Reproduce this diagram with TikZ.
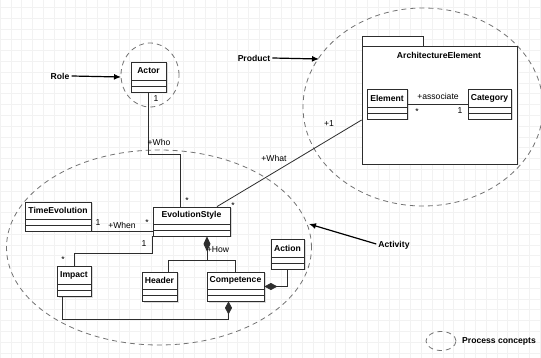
\documentclass[tikz,border=0pt]{standalone}
\usepackage{fontspec}
\setmainfont{Liberation Sans}
\usetikzlibrary{arrows.meta,fit,shapes.geometric}
\definecolor{gridc}{RGB}{242,242,242}
\definecolor{linec}{RGB}{45,45,45}
\definecolor{dashc}{RGB}{115,115,115}
\newcommand\umlcls[6]{%
  \coordinate (#1-a) at (#2,#3);
  \coordinate (#1-b) at (#4,#5);
  \fill[shadowc] ({#2+1.5},{#3+1.5}) rectangle ({#4+1.5},{#5+1.5});
  \node[clsbox, fit=(#1-a)(#1-b)] (#1) {};
  \draw[clsline] (#2,{#5-12}) -- (#4,{#5-12});
  \draw[clsline] (#2,{#5-6}) -- (#4,{#5-6});
  \node[blbl] at ({(#2+#4)/2},{(#3+#5-12)/2}) {#6};
}
\begin{document}
\begin{tikzpicture}[x=1pt,y=-1pt,
  lbl/.style={font=\fontsize{8.6}{10}\selectfont, inner sep=0},
  blbl/.style={font=\fontsize{8.6}{10}\selectfont\bfseries, inner sep=0},
  shadowc/.style={black!14},
  clsbox/.style={draw=linec, line width=0.8pt, fill=white, inner sep=0pt},
  clsline/.style={draw=linec, line width=0.8pt},
  conn/.style={draw=linec, line width=0.8pt},
  comp/.style={conn, -{Diamond[length=13pt,width=7pt]}},
  grp/.style={draw=dashc, line width=0.8pt, dash pattern=on 5pt off 4pt, ellipse, inner sep=0pt},
  bigarrow/.style={draw=black, line width=1.2pt, -{Latex[length=7pt,width=6pt]}}
]
\useasboundingbox (0,0) rectangle (541,358);
\fill[white] (0,0) rectangle (541,358);
% grid
\foreach \i in {0,...,50} \draw[gridc, line width=0.6pt] ({\i*10.8},0) -- ({\i*10.8},358);
\foreach \j in {0,...,32} \draw[gridc, line width=0.6pt] (0,{\j*10.8+7.3}) -- (541,{\j*10.8+7.3});

% group ellipses
\node[grp, minimum width=58pt, minimum height=64pt] (actorc) at (150,75) {};
\node[grp, minimum width=240pt, minimum height=198pt] (prodc) at (423,107) {};
\node[grp, minimum width=305pt, minimum height=195pt] (actc) at (159,247.5) {};
\node[grp, minimum width=30pt, minimum height=19pt] (legc) at (441,341) {};

% package
\draw[clsline, fill=white] (362,36) rectangle (423,46);
\coordinate (pkg-a) at (362,46);
\coordinate (pkg-b) at (517,164);
\node[clsbox, fit=(pkg-a)(pkg-b)] (pkg) {};
\node[blbl] at (439,55) {ArchitectureElement};

% classes
\umlcls{actor}{131}{62}{166}{92}{Actor}
\umlcls{element}{367}{89}{407}{119}{Element}
\umlcls{category}{468}{89}{511}{119}{Category}
\umlcls{evo}{153}{207}{230}{236}{EvolutionStyle}
\umlcls{tev}{25}{202}{91}{231}{TimeEvolution}
\umlcls{impact}{57}{266}{91}{296}{Impact}
\umlcls{header}{142}{272}{177}{301}{Header}
\umlcls{comp}{207}{272}{264}{301}{Competence}
\umlcls{action}{271}{239}{304}{269}{Action}

% labels with arrows
\node[blbl] (role) at (60,76) {Role};
\node[blbl] (product) at (254,58) {Product};
\node[blbl] (activity) at (394,245) {Activity};
\node[blbl, anchor=west] (legend) at (462,341) {Process concepts};
\coordinate (roleend) at (121,77);
\coordinate (prodend) at (319,59);
\coordinate (actend) at (309,224);
\draw[bigarrow] (role.east) ++(2,0) -- (roleend);
\draw[bigarrow] (product.east) ++(2,0) -- (prodend);
\draw[bigarrow] (activity.west) ++(-2,-1) -- (actend);

% Who
\coordinate (who) at (180,154);
\draw[conn] (actor.south) |- (who) -- (who |- evo.north);
\node[lbl] at (156,99) {1};
\node[lbl] at (159,142) {+Who};
\node[lbl] at (187,201) {*};

% What
\coordinate (whatA) at (217,207);
\coordinate (whatB) at (362,120);
\draw[conn] (whatA |- evo.north) -- (whatB -| pkg.west);
\node[lbl] at (233,206) {*};
\node[lbl] at (274,158) {+What};
\node[lbl] at (329,124) {+1};

% associate
\coordinate (assoc) at (400,104);
\draw[conn] (assoc -| element.east) -- (assoc -| category.west);
\node[lbl] at (438,96) {+associate};
\node[lbl] at (417,112) {*};
\node[lbl] at (460,111) {1};

% When
\draw[conn] (tev.south east) -- (tev.south east -| evo.west);
\node[lbl] at (98,223) {1};
\node[lbl] at (122,225) {+When};
\node[lbl] at (147,223) {*};

% Impact link
\draw[conn] (evo.south west) -- ++(0,17) -| (impact.north);
\node[lbl] at (144,244) {1};
\node[lbl] at (63,260) {*};

% How
\coordinate (howx) at (207,260);
\draw[conn, {Diamond[length=15pt,width=7pt]}-] (howx |- evo.south) -- (howx);
\coordinate (hh) at (168,260);
\coordinate (hc) at (235.5,260);
\draw[conn] (hh |- header.north) -- (hh) -- (hc) -- (hc |- comp.north);
\node[lbl] at (218,250) {+How};

% Action -> Competence
\draw[comp] (action.south) |- (comp.east);

% Impact -> Competence
\coordinate (ia) at (62.5,319);
\coordinate (ib) at (228.5,319);
\draw[comp] (ia |- impact.south) -- (ia) -- (ib) -- (ib |- comp.south);
\end{tikzpicture}
\end{document}
